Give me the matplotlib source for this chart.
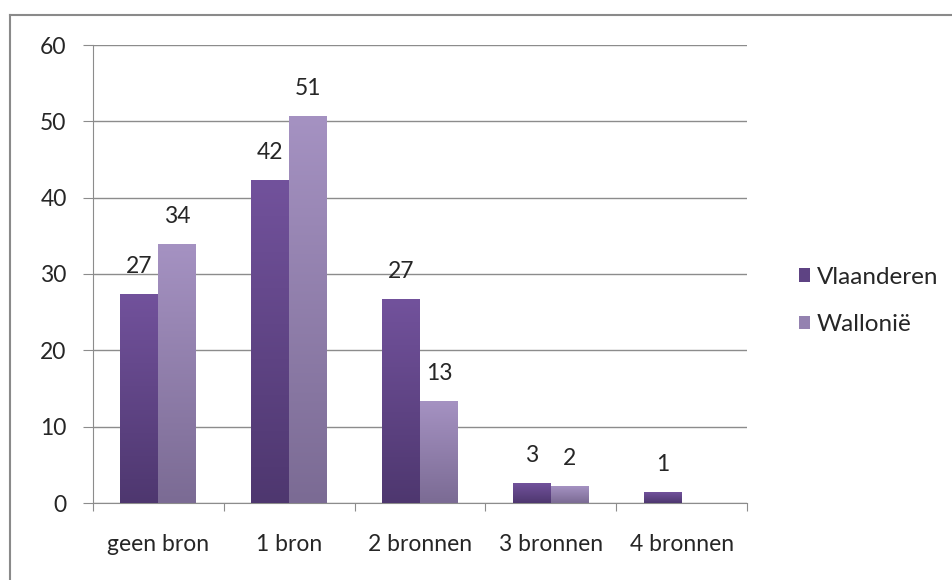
import numpy as np
import matplotlib
matplotlib.use("Agg")
import matplotlib.pyplot as plt
from matplotlib.colors import LinearSegmentedColormap
from matplotlib.lines import Line2D

categories = ["geen bron", "1 bron", "2 bronnen", "3 bronnen", "4 bronnen"]
vlaanderen = [27.4, 42.3, 26.7, 2.6, 1.4]
wallonie = [33.9, 50.7, 13.3, 2.2, None]
series_names = ["Vlaanderen", "Wallonië"]
y_ticks = [0, 10, 20, 30, 40, 50, 60]

plt.rcParams["font.family"] = ["Lato", "DejaVu Sans"]
FS = 16.5
TXT = "#262626"

fig = plt.figure(figsize=(9.53, 5.80), dpi=100)
ax = fig.add_axes([93 / 953, 1 - 503 / 580, (747 - 93) / 953, (503 - 45) / 580])

# gradients run from the bottom colour to the top colour of each bar
grad_v = LinearSegmentedColormap.from_list("gv", ["#4e376f", "#72529c"])
grad_w = LinearSegmentedColormap.from_list("gw", ["#7b6b94", "#a592c2"])
legend_v = "#5e4383"
legend_w = "#9482b0"

x = np.arange(len(categories))
width = 0.29
ax.set_xlim(-0.5, len(categories) - 0.5)
ax.set_ylim(0, 60)

grad = np.linspace(0, 1, 256).reshape(-1, 1)


def gradient_bar(xc, h, cmap):
    bars = ax.bar(xc, h, width, color="none", edgecolor="none", zorder=3)
    for b in bars:
        x0, y0 = b.get_x(), b.get_y()
        im = ax.imshow(grad, cmap=cmap, origin="lower", aspect="auto",
                       extent=[x0, x0 + b.get_width(), y0, y0 + b.get_height()],
                       zorder=3, interpolation="bilinear")
        im.set_clip_path(b)
    return bars


label_gap = 3.6
for i, (vv, ww) in enumerate(zip(vlaanderen, wallonie)):
    if vv is not None:
        gradient_bar(x[i] - width / 2, vv, grad_v)
        ax.text(x[i] - width / 2, vv + label_gap, f"{vv:.0f}", ha="center", va="center",
                fontsize=FS, color=TXT, zorder=4)
    if ww is not None:
        gradient_bar(x[i] + width / 2, ww, grad_w)
        ax.text(x[i] + width / 2, ww + label_gap, f"{ww:.0f}", ha="center", va="center",
                fontsize=FS, color=TXT, zorder=4)

ax.set_xlim(-0.5, len(categories) - 0.5)
ax.set_ylim(0, 60)

ax.set_yticks(y_ticks)
ax.set_yticklabels([str(t) for t in y_ticks], fontsize=FS, color=TXT)
ax.yaxis.grid(True, color="#8c8c8c", linewidth=1.0, zorder=0)
ax.set_axisbelow(True)

ax.set_xticks(np.arange(-0.5, len(categories) + 0.5, 1.0))
ax.set_xticklabels([])
ax.set_xticks(x, minor=True)
ax.set_xticklabels(categories, minor=True, fontsize=FS, color=TXT)
ax.tick_params(axis="x", which="minor", length=0, pad=22)
ax.tick_params(axis="x", which="major", length=6, color="#8c8c8c", direction="out")
ax.tick_params(axis="y", length=7, color="#8c8c8c", pad=12)

for side in ["top", "right"]:
    ax.spines[side].set_visible(False)
ax.spines["left"].set_color("#8c8c8c")
ax.spines["bottom"].set_color("#8c8c8c")

handles = [
    plt.Rectangle((0, 0), 1, 1, facecolor=legend_v, edgecolor="none"),
    plt.Rectangle((0, 0), 1, 1, facecolor=legend_w, edgecolor="none"),
]
fig.legend(handles, series_names, loc="center left",
           bbox_to_anchor=(777 / 953, 1 - 301 / 580), frameon=False,
           fontsize=17.5, handlelength=0.45, handleheight=0.45,
           handletextpad=0.3, labelspacing=1.1, labelcolor=TXT)

# chart frame
fig.add_artist(Line2D([10 / 953, 1], [1 - 15 / 580, 1 - 15 / 580],
                      transform=fig.transFigure, color="#8a8a8a", linewidth=1.5))
fig.add_artist(Line2D([10 / 953, 10 / 953], [0, 1 - 15 / 580],
                      transform=fig.transFigure, color="#8a8a8a", linewidth=1.5))

fig.savefig("out.png", dpi=100, facecolor="white")
